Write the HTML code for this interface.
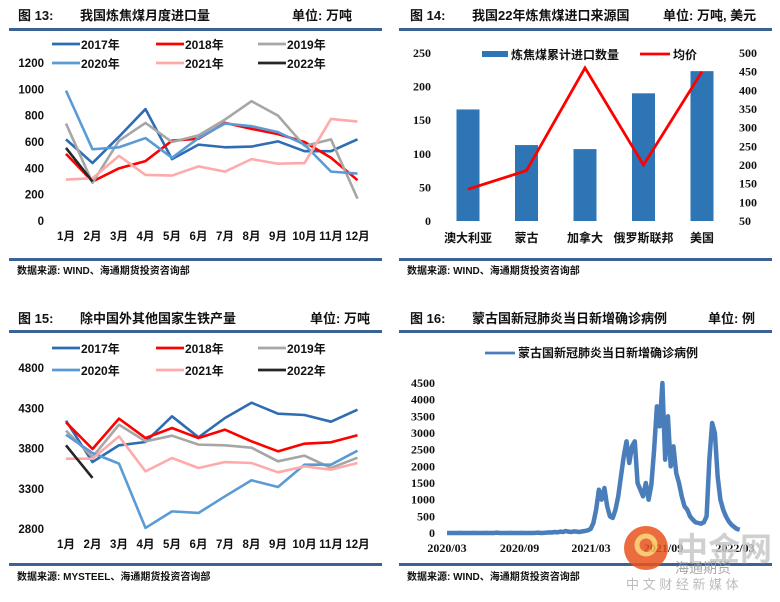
<!DOCTYPE html>
<html><head><meta charset="utf-8">
<style>
body{margin:0;background:#fff;}
svg{display:block;font-family:"Liberation Sans","Noto Sans CJK SC",sans-serif;}
.t{font-weight:bold;font-size:13px;fill:#111;font-family:"Liberation Sans","Noto Sans CJK SC",sans-serif;}
.src{font-weight:bold;font-size:10px;fill:#111;}
.ax{font-weight:bold;font-size:11.5px;fill:#111;}
.axs{font-weight:bold;font-size:12px;fill:#111;font-family:"Liberation Serif","Noto Serif CJK SC",serif;}
.lg{font-weight:bold;font-size:12px;fill:#111;}
</style></head><body>
<svg id="root" width="780" height="602" viewBox="0 0 780 602">
<g>
<text class="t" x="18" y="20">图 13:</text><text class="t" x="80" y="20">我国炼焦煤月度进口量</text><text class="t" x="292" y="20">单位: 万吨</text>
<rect x="9" y="28" width="373" height="3" fill="#3a6293"/>
<rect x="9" y="258" width="373" height="3" fill="#3a6293"/>
<text class="src" x="17" y="274">数据来源: WIND、海通期货投资咨询部</text></g>
<g>
<text class="t" x="410" y="20">图 14:</text><text class="t" x="472" y="20">我国22年炼焦煤进口来源国</text><text class="t" x="663" y="20">单位: 万吨, 美元</text>
<rect x="399" y="28" width="373" height="3" fill="#3a6293"/>
<rect x="399" y="258" width="373" height="3" fill="#3a6293"/>
<text class="src" x="407" y="274">数据来源: WIND、海通期货投资咨询部</text></g>
<g>
<text class="t" x="18" y="323">图 15:</text><text class="t" x="80" y="323">除中国外其他国家生铁产量</text><text class="t" x="310" y="323">单位: 万吨</text>
<rect x="9" y="330" width="373" height="3" fill="#3a6293"/>
<rect x="9" y="563" width="373" height="3" fill="#3a6293"/>
<text class="src" x="17" y="580">数据来源: MYSTEEL、海通期货投资咨询部</text></g>
<g>
<text class="t" x="410" y="323">图 16:</text><text class="t" x="472" y="323">蒙古国新冠肺炎当日新增确诊病例</text><text class="t" x="708" y="323">单位: 例</text>
<rect x="399" y="330" width="373" height="3" fill="#3a6293"/>
<rect x="399" y="563" width="373" height="3" fill="#3a6293"/>
<text class="src" x="407" y="580">数据来源: WIND、海通期货投资咨询部</text></g>
</svg>
<script>
// ---- Panel 13 data ----
const months = ['1月','2月','3月','4月','5月','6月','7月','8月','9月','10月','11月','12月'];
const yearNames = ['2017年','2018年','2019年','2020年','2021年','2022年'];
const imp2017 = [620,440,640,850,470,580,560,565,605,530,530,620];
const imp2018 = [510,300,400,455,610,625,745,700,660,600,480,310];
const imp2019 = [740,290,610,745,600,650,770,910,800,570,620,170];
const imp2020 = [990,545,560,630,480,630,740,720,675,580,375,360];
const imp2021 = [315,325,495,350,345,415,375,470,435,440,775,755];
const imp2022 = [555,300];
const impTicks = [0,200,400,600,800,1000,1200];
// ---- Panel 14 data ----
const countries = ['澳大利亚','蒙古','加拿大','俄罗斯联邦','美国'];
const qty = [166,113,107,190,223];
const price = [135,185,460,200,450];
const qtyTicks = [0,50,100,150,200,250];
const priceTicks = [50,100,150,200,250,300,350,400,450,500];
// ---- Panel 15 data ----
const pig2017 = [4146,3632,3840,3881,4200,3939,4179,4369,4233,4216,4133,4282];
const pig2018 = [4125,3794,4171,3930,4055,3930,4034,3889,3765,3860,3877,3964];
const pig2019 = [4022,3694,4096,3889,3959,3848,3840,3810,3641,3711,3558,3686];
const pig2020 = [3972,3744,3612,2813,3019,2999,3206,3405,3322,3599,3599,3773];
const pig2021 = [3674,3674,3951,3516,3682,3558,3632,3620,3504,3578,3537,3620];
const pig2022 = [3840,3434];
const pigTicks = [2800,3300,3800,4300,4800];
// ---- Panel 16 data (weekly from 2020-03-01) ----
const covidStart = '2020/03/01';
const covidWeekly = [0,0,0,0,0,5,0,0,0,0,3,0,0,0,5,0,0,0,10,0,0,0,0,5,0,0,0,5,0,0,0,0,5,10,0,5,
10,20,15,30,20,40,30,60,40,30,50,40,30,50,60,80,
120,300,700,1300,1000,1350,800,500,450,700,1100,1700,2300,2750,2100,2600,2750,1500,1300,1100,1500,1000,1450,2500,3800,3200,4500,2200,3500,2000,2600,1800,1500,1100,800,700,500,400,320,300,280,320,500,2200,3300,3000,1700,1000,700,500,350,250,180,120,100];
const covidTicks = ['2020/03','2020/09','2021/03','2021/09','2022/03'];
const covidYTicks = [0,500,1000,1500,2000,2500,3000,3500,4000,4500];

const NS='http://www.w3.org/2000/svg';
const root=document.getElementById('root');
function mk(tag,attrs,parent){const e=document.createElementNS(NS,tag);for(const k in attrs)e.setAttribute(k,attrs[k]);(parent||root).appendChild(e);return e;}
function txt(s,attrs,parent){const e=mk('text',attrs,parent);e.textContent=s;return e;}
const colors=['#2e6db4','#ff0000','#a6a6a6','#5b9bd5','#ffaaaa','#262626'];

function linePanel(series,ticks,ymin,ymax,y0,y1,labelX,gName){
  const g=mk('g',{});
  
  
  const xs=i=>66+i*26.5;
  const ys=v=>y0-(v-ymin)/(ymax-ymin)*(y0-y1);
  ticks.forEach(t=>{const e=txt(String(t),{class:'ax',x:labelX,y:ys(t)+4,'text-anchor':'end'},g);
    
    });
  months.forEach((m,i)=>{const e=txt(m,{class:'ax',x:xs(i),y:y0+19,'text-anchor':'middle'},g);
    
    });
  series.forEach((s,k)=>{const p=mk('polyline',{points:s.map((v,i)=>xs(i)+','+ys(v)).join(' '),fill:'none',stroke:colors[k],'stroke-width':2.6,'stroke-linejoin':'round'},g);
    
    });
  return g;
}
function legend6(y1,y2,g){
  const xs=[52,156,258], yy=[y1,y2];
  yearNames.forEach((n,k)=>{const x=xs[k%3],y=yy[Math.floor(k/3)];
    const l=mk('line',{x1:x,x2:x+28,y1:y,y2:y,stroke:colors[k],'stroke-width':2.8},g);
    
    
    const t=txt(n,{class:'lg',x:x+29,y:y+5},g);
    
    });
}
// Panel 13
const g13=linePanel([imp2017,imp2018,imp2019,imp2020,imp2021,imp2022],impTicks,0,1200,221,63,44,'import-volume-chart');
legend6(44,63,g13);
// Panel 15
const g15=linePanel([pig2017,pig2018,pig2019,pig2020,pig2021,pig2022],pigTicks,2800,4800,529,368,44,'pig-iron-chart');
legend6(348,370,g15);

// Panel 14
(function(){
  const g=mk('g',{});
  
  
  const cx=i=>468+i*58.5;
  const yl=v=>221-v/250*168;
  const yr=v=>221-(v-50)/450*168;
  qtyTicks.forEach(t=>{const e=txt(String(t),{class:'axs',x:431,y:yl(t)+4,'text-anchor':'end'},g);
    
    });
  priceTicks.forEach(t=>{const e=txt(String(t),{class:'axs',x:739,y:yr(t)+4},g);
    
    });
  qty.forEach((v,i)=>{const r=mk('rect',{x:cx(i)-11.5,y:yl(v),width:23,height:221-yl(v),fill:'#2e75b6'},g);
    
    });
  const pl=mk('polyline',{points:price.map((v,i)=>cx(i)+','+yr(v)).join(' '),fill:'none',stroke:'#ff0000','stroke-width':2.8},g);
  
  
  countries.forEach((c,i)=>{const e=txt(c,{class:'lg',x:cx(i),y:242,'text-anchor':'middle','font-weight':'normal'},g);
    
    });
  const s1=mk('rect',{x:482,y:51,width:26,height:6,fill:'#2e75b6'},g);
  
  
  const t1=txt('炼焦煤累计进口数量',{class:'lg',x:511,y:59},g);
  
  
  const s2=mk('line',{x1:640,x2:670,y1:54,y2:54,stroke:'#ff0000','stroke-width':2.8},g);
  
  
  const t2=txt('均价',{class:'lg',x:673,y:59},g);
  
  
})();

// Panel 16
(function(){
  const g=mk('g',{});
  
  
  const day=s=>{const p=s.split('/').map(Number);return (Date.UTC(p[0],p[1]-1,p[2]||1)-Date.UTC(2020,2,1))/86400000;};
  const xs=d=>447+d*144/365;
  const ys=v=>533-v/4500*150;
  const d0=day(covidStart);
  covidYTicks.forEach(t=>{const e=txt(String(t),{class:'axs',x:435,y:ys(t)+4,'text-anchor':'end'},g);
    
    });
  covidTicks.forEach(t=>{const e=txt(t,{class:'axs',x:xs(day(t)),y:552,'text-anchor':'middle'},g);
    
    });
  const pl=mk('polyline',{points:covidWeekly.map((v,i)=>xs(d0+i*7)+','+ys(v)).join(' '),fill:'none',stroke:'#4a7ebb','stroke-width':4.5,'stroke-linejoin':'round'},g);
  
  
  const s=mk('line',{x1:485,x2:515,y1:353,y2:353,stroke:'#4a7ebb','stroke-width':2.8},g);
  
  
  const t=txt('蒙古国新冠肺炎当日新增确诊病例',{class:'lg',x:518,y:357,'font-size':'11'},g);
  
  
  const wm=mk('g',{opacity:0.85},g);
  
  
  mk('circle',{cx:646,cy:548,r:22,fill:'#e8541e'},wm);
  mk('circle',{cx:646,cy:545,r:9,fill:'none',stroke:'#f7c25a','stroke-width':5},wm);
  txt('中金网',{x:676,y:560,'font-size':32,'font-weight':'bold',fill:'#c8c8c8'},wm);
  txt('海通期货',{x:675,y:573,'font-size':14,fill:'#999'},wm);
  txt('中 文 财 经 新 媒 体',{x:626,y:589,'font-size':13,fill:'#b0b0b0'},wm);
})();
</script>
</body></html>
